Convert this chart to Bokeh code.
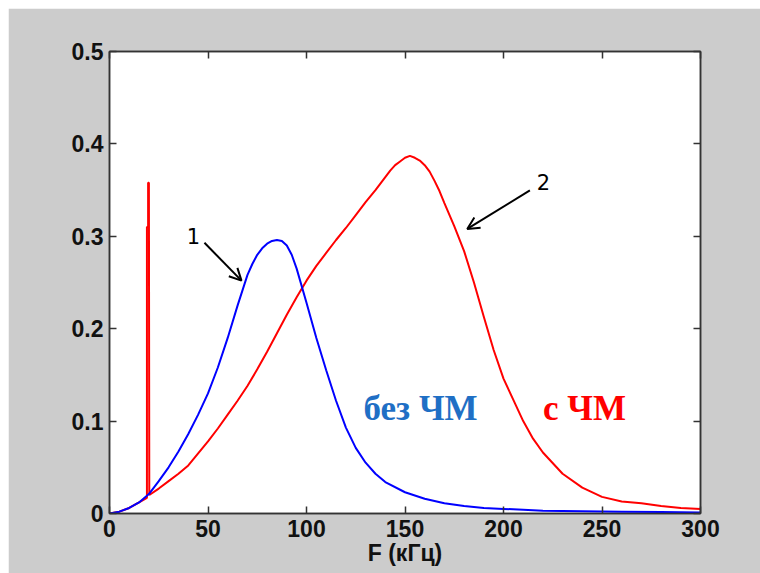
from bokeh.plotting import figure
from bokeh.models import (Range1d, LinearAxis, FixedTicker, Arrow, OpenHead, Label,
                          Spacer, CustomJSTickFormatter)
from bokeh.layouts import column, row
from bokeh.embed import file_html
from bokeh.resources import INLINE

# ---- data ----
blue_F = [0, 5, 10, 15, 20, 25, 30, 35, 40, 45, 50, 55, 60, 65, 70, 72.5, 75, 77.5, 80,
          82.5, 85, 87.5, 90, 92.5, 95, 100, 105, 110, 115, 120, 125, 130, 135, 140,
          150, 160, 170, 180, 190, 200, 210, 220, 240, 260, 280, 300]
blue_v = [0, 0.002, 0.006, 0.012, 0.021, 0.035, 0.05, 0.067, 0.086, 0.107, 0.13, 0.158,
          0.19, 0.225, 0.258, 0.27, 0.28, 0.287, 0.292, 0.295, 0.296, 0.295, 0.29,
          0.28, 0.265, 0.228, 0.19, 0.155, 0.122, 0.093, 0.071, 0.055, 0.043, 0.034,
          0.023, 0.016, 0.011, 0.008, 0.006, 0.005, 0.004, 0.003, 0.0025, 0.002, 0.0015,
          0.001]

red_F = [0, 5, 10, 15, 19.0, 19.0, 19.6, 19.6, 20.0, 20.2, 25, 30, 35, 40, 45, 50, 55, 60,
         65, 70, 75, 80, 85, 90, 95, 100, 105, 110, 115, 120, 125, 130, 135, 140, 142.5,
         145, 147.5, 150, 152.5, 155, 157.5, 160, 162.5, 165, 167.5, 170, 175, 180, 185,
         190, 195, 200, 205, 210, 215, 220, 230, 240, 250, 260, 270, 280, 290, 300]
red_v = [0, 0.002, 0.006, 0.012, 0.017, 0.31, 0.31, 0.358, 0.358, 0.02, 0.027, 0.035,
         0.043, 0.052, 0.065, 0.078, 0.092, 0.107, 0.122, 0.138, 0.156, 0.175, 0.195,
         0.215, 0.234, 0.252, 0.268, 0.282, 0.296, 0.309, 0.323, 0.337, 0.35, 0.364,
         0.371, 0.377, 0.381, 0.385, 0.387, 0.385, 0.382, 0.377, 0.37, 0.36, 0.349,
         0.336, 0.311, 0.284, 0.25, 0.213, 0.177, 0.146, 0.123, 0.1, 0.081, 0.066,
         0.043, 0.028, 0.018, 0.013, 0.011, 0.008, 0.006, 0.005]

x_ticks = [0, 50, 100, 150, 200, 250, 300]
y_ticks = [0, 0.1, 0.2, 0.3, 0.4, 0.5]
y_tick_labels = ["0", "0.1", "0.2", "0.3", "0.4", "0.5"]
x_title = "F (кГц)"

GRAY = "#cccccc"
FRAME = "#333333"
TICK_FONT = "Liberation Sans"

p = figure(width=752, height=565, output_backend="svg", toolbar_location=None,
           x_range=Range1d(0, 300), y_range=Range1d(0, 0.5),
           min_border_left=101, min_border_top=43, min_border_right=60,
           min_border_bottom=60, x_axis_location=None, y_axis_location=None)
p.border_fill_color = GRAY
p.background_fill_color = "white"
p.outline_line_color = FRAME
p.outline_line_width = 1.5
p.xgrid.visible = False
p.ygrid.visible = False


def style_axis(ax, ticks, labels=True):
    ax.ticker = FixedTicker(ticks=ticks)
    ax.major_tick_in = 7
    ax.major_tick_out = 0
    ax.minor_tick_line_color = None
    ax.axis_line_color = FRAME
    ax.axis_line_width = 1.5
    ax.major_tick_line_color = FRAME
    ax.major_tick_line_width = 1.5
    ax.major_label_text_font = TICK_FONT
    ax.major_label_text_font_style = "bold"
    ax.major_label_text_font_size = "23px"
    ax.major_label_text_color = "#111111"
    if not labels:
        ax.formatter = CustomJSTickFormatter(code="return ''")


xb = LinearAxis()
style_axis(xb, x_ticks)
xb.major_label_standoff = 6
xb.axis_label = x_title
xb.axis_label_standoff = 0
xb.axis_label_text_font = TICK_FONT
xb.axis_label_text_font_style = "bold"
xb.axis_label_text_font_size = "23px"
xb.axis_label_text_color = "#111111"
p.add_layout(xb, "below")

yl = LinearAxis()
style_axis(yl, y_ticks)
yl.major_label_overrides = {t: s for t, s in zip(y_ticks, y_tick_labels)}
yl.major_label_standoff = 6
p.add_layout(yl, "left")

xt = LinearAxis()
style_axis(xt, x_ticks, labels=False)
p.add_layout(xt, "above")

yr = LinearAxis()
style_axis(yr, y_ticks, labels=False)
p.add_layout(yr, "right")

p.line(red_F, red_v, line_color="#ff0000", line_width=2)
p.line(blue_F, blue_v, line_color="#0000ff", line_width=2)

# arrows and labels
p.add_layout(Arrow(x_start=48.2, y_start=0.293, x_end=67, y_end=0.252,
                   line_color="black", line_width=2,
                   end=OpenHead(size=12, line_color="black", line_width=2)))
p.add_layout(Arrow(x_start=213.4, y_start=0.3496, x_end=181.6, y_end=0.308,
                   line_color="black", line_width=2,
                   end=OpenHead(size=12, line_color="black", line_width=2)))
p.add_layout(Label(x=42.6, y=0.2998, text="1", text_align="center",
                   text_baseline="middle", text_font="DejaVu Sans",
                   text_font_size="21px", text_color="black"))
p.add_layout(Label(x=220.3, y=0.359, text="2", text_align="center",
                   text_baseline="middle", text_font="DejaVu Sans",
                   text_font_size="21px", text_color="black"))
p.add_layout(Label(x=157.9, y=0.1136, text="без ЧМ", text_align="center",
                   text_baseline="middle", text_font="Liberation Serif",
                   text_font_style="bold", text_font_size="35px",
                   text_color="#1f6fc5"))
p.add_layout(Label(x=241.1, y=0.1136, text="с ЧМ", text_align="center",
                   text_baseline="middle", text_font="Liberation Serif",
                   text_font_style="bold", text_font_size="35px",
                   text_color="#ff0000"))

layout = column(Spacer(width=760, height=8),
                row(Spacer(width=8, height=565), p))

open("out.html", "w").write(file_html(layout, INLINE))
